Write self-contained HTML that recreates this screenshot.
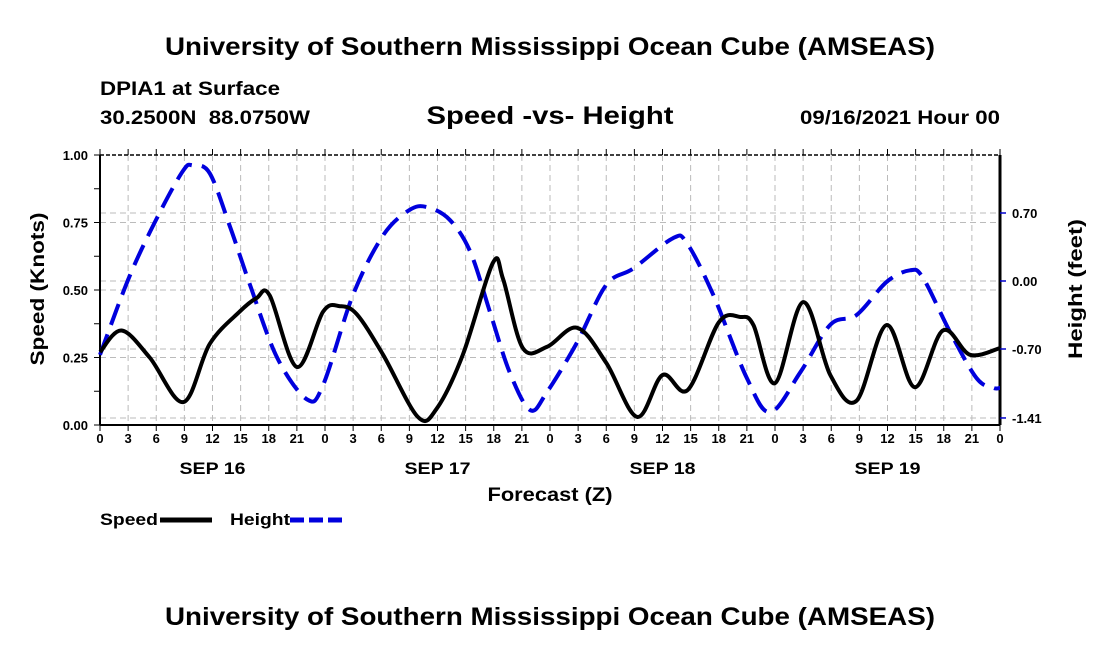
<!DOCTYPE html>
<html><head><meta charset="utf-8"><style>
body{margin:0;background:#fff;width:1100px;height:650px;overflow:hidden}
svg text{font-family:"Liberation Sans",Arial,sans-serif;font-weight:bold}
</style></head><body>
<svg id="chart" width="1100" height="650" viewBox="0 0 1100 650" xmlns="http://www.w3.org/2000/svg">
<text x="550" y="55" font-size="25" text-anchor="middle" textLength="770" lengthAdjust="spacingAndGlyphs">University of Southern Mississippi Ocean Cube (AMSEAS)</text>
<text x="100" y="95" font-size="19" textLength="180" lengthAdjust="spacingAndGlyphs">DPIA1 at Surface</text>
<text x="100" y="124" font-size="19" textLength="210" lengthAdjust="spacingAndGlyphs" xml:space="preserve">30.2500N  88.0750W</text>
<text x="550" y="124" font-size="25" text-anchor="middle" textLength="247" lengthAdjust="spacingAndGlyphs">Speed -vs- Height</text>
<text x="1000" y="124" font-size="19" text-anchor="end" textLength="200" lengthAdjust="spacingAndGlyphs">09/16/2021 Hour 00</text>
<g id="grid"></g>
<g id="axes"></g>
<g id="series"></g>
<text x="550" y="501" font-size="19" text-anchor="middle" textLength="125" lengthAdjust="spacingAndGlyphs">Forecast (Z)</text>
<text transform="translate(44,289) rotate(-90)" font-size="19" text-anchor="middle" textLength="153" lengthAdjust="spacingAndGlyphs">Speed (Knots)</text>
<text transform="translate(1082,289) rotate(-90)" font-size="19" text-anchor="middle" textLength="140" lengthAdjust="spacingAndGlyphs">Height (feet)</text>
<g>
<text x="100" y="525" font-size="17" textLength="58" lengthAdjust="spacingAndGlyphs">Speed</text>
<line x1="160" y1="520" x2="212" y2="520" stroke="#000" stroke-width="5"/>
<text x="230" y="525" font-size="17" textLength="60" lengthAdjust="spacingAndGlyphs">Height</text>
<line x1="290" y1="520" x2="342" y2="520" stroke="#0000dd" stroke-width="5" stroke-dasharray="14,5"/>
</g>
<text x="550" y="625" font-size="25" text-anchor="middle" textLength="770" lengthAdjust="spacingAndGlyphs">University of Southern Mississippi Ocean Cube (AMSEAS)</text>
</svg>
<script>
const speedHours=[0,2.3,5.3,8.9,11.7,14.9,16.7,18.1,21,23.8,25.6,27.4,30.2,33.9,35.9,38.7,41.9,43,45.1,47.7,50.9,54,57.3,60,62.7,66,68.3,69.7,72,75,77.9,80.7,83.9,86.9,89.9,92.8,96];
const speedValues=[0.27,0.35,0.25,0.085,0.30,0.42,0.47,0.48,0.215,0.42,0.44,0.41,0.26,0.03,0.06,0.26,0.60,0.54,0.285,0.29,0.36,0.23,0.03,0.185,0.13,0.38,0.40,0.37,0.155,0.455,0.185,0.09,0.37,0.14,0.35,0.26,0.285];
const heightHours=[0,3.2,6.4,8.9,9.9,11.7,13.9,16,18.9,22.1,23.8,27,30.2,33,34.9,37.3,39.5,41.6,43.7,45.9,47.7,50.9,54,56.9,61.1,62.6,65.4,69,71.5,74.7,77.9,80.7,83.9,86.4,87.8,90.7,93.5,95.3,96];
const heightValues=[-0.76,0.06,0.71,1.14,1.19,1.11,0.55,-0.04,-0.79,-1.22,-1.07,-0.14,0.47,0.73,0.76,0.63,0.30,-0.32,-0.94,-1.33,-1.14,-0.63,-0.04,0.13,0.44,0.39,-0.14,-1.0,-1.35,-0.94,-0.45,-0.35,-0.01,0.11,0.03,-0.53,-1.0,-1.10,-1.10];
const speedTicks=[0,0.25,0.5,0.75,1.0];
const speedTickLabels=["0.00","0.25","0.50","0.75","1.00"];
const heightTicks=[0.70,0,-0.70,-1.41];
const heightTickLabels=["0.70","0.00","-0.70","-1.41"];
const dayLabels=["SEP 16","SEP 17","SEP 18","SEP 19"];
const X0=100,X1=1000,Y0=425,Y1=155;
const xs=h=>X0+(h/96)*(X1-X0);
const ys=v=>Y0-v*(Y0-Y1);
const yh=v=>281-v*(68/0.70);
const NS="http://www.w3.org/2000/svg";
function mk(parent,tag,attrs){const e=document.createElementNS(NS,tag);for(const k in attrs)e.setAttribute(k,attrs[k]);parent.appendChild(e);return e;}
const grid=document.getElementById('grid'),axes=document.getElementById('axes'),series=document.getElementById('series');
for(let h=3;h<96;h+=3){const l=mk(grid,'line',{x1:xs(h),y1:Y1,x2:xs(h),y2:Y0,stroke:'#bbb','stroke-width':1,'stroke-dasharray':'6,4'});

}
speedTicks.slice(1,4).forEach(v=>{const l=mk(grid,'line',{x1:X0,y1:ys(v),x2:X1,y2:ys(v),stroke:'#bbb','stroke-width':1,'stroke-dasharray':'6,4'});

});
heightTicks.forEach(v=>{const l=mk(grid,'line',{x1:X0,y1:yh(v),x2:X1,y2:yh(v),stroke:'#bbb','stroke-width':1,'stroke-dasharray':'6,4'});

});
let f=mk(axes,'line',{x1:X0,y1:Y1,x2:X0,y2:Y0,stroke:'#000','stroke-width':2});

f=mk(axes,'line',{x1:X1,y1:Y1,x2:X1,y2:Y0,stroke:'#000','stroke-width':3});

f=mk(axes,'line',{x1:X0,y1:Y0,x2:X1,y2:Y0,stroke:'#000','stroke-width':2});

f=mk(axes,'line',{x1:X0,y1:Y1,x2:X1,y2:Y1,stroke:'#000','stroke-width':1.5,'stroke-dasharray':'4,2'});

for(let h=0;h<=96;h+=3){
 mk(axes,'line',{x1:xs(h),y1:Y0,x2:xs(h),y2:Y0+6,stroke:'#000','stroke-width':1});
 mk(axes,'line',{x1:xs(h),y1:Y1,x2:xs(h),y2:Y1-6,stroke:'#000','stroke-width':1});
 const t=mk(axes,'text',{x:xs(h),y:443,'font-size':13,'text-anchor':'middle'});
 t.textContent=String(h%24);
 
 
}
dayLabels.forEach((d,i)=>{const t=mk(axes,'text',{x:xs(i*24+12),y:474,'font-size':17,'text-anchor':'middle',textLength:66,lengthAdjust:'spacingAndGlyphs'});t.textContent=d;

});
for(let v=0;v<=1.0001;v+=0.125){mk(axes,'line',{x1:X0-6,y1:ys(v),x2:X0,y2:ys(v),stroke:'#000','stroke-width':1});}
speedTicks.forEach((v,i)=>{const t=mk(axes,'text',{x:X0-12,y:ys(v)+5,'font-size':13,'text-anchor':'end'});t.textContent=speedTickLabels[i];

});
heightTicks.forEach((v,i)=>{mk(axes,'line',{x1:X1,y1:yh(v),x2:X1+6,y2:yh(v),stroke:'#0000cc','stroke-width':1.5});
const t=mk(axes,'text',{x:X1+12,y:yh(v)+5,'font-size':13});t.textContent=heightTickLabels[i];

});
function smooth(pts){let d=`M${pts[0][0]},${pts[0][1]}`;for(let i=0;i<pts.length-1;i++){const p0=pts[Math.max(0,i-1)],p1=pts[i],p2=pts[i+1],p3=pts[Math.min(pts.length-1,i+2)];
const c1x=p1[0]+(p2[0]-p0[0])/6,c1y=p1[1]+(p2[1]-p0[1])/6,c2x=p2[0]-(p3[0]-p1[0])/6,c2y=p2[1]-(p3[1]-p1[1])/6;
d+=` C${c1x},${c1y} ${c2x},${c2y} ${p2[0]},${p2[1]}`;}return d;}
const hp=mk(series,'path',{d:smooth(heightHours.map((h,i)=>[xs(h),yh(heightValues[i])])),fill:'none',stroke:'#0000dd','stroke-width':4,'stroke-dasharray':'22,10'});


const sp=mk(series,'path',{d:smooth(speedHours.map((h,i)=>[xs(h),ys(speedValues[i])])),fill:'none',stroke:'#000','stroke-width':4,'stroke-linejoin':'round'});


</script>
</body></html>
